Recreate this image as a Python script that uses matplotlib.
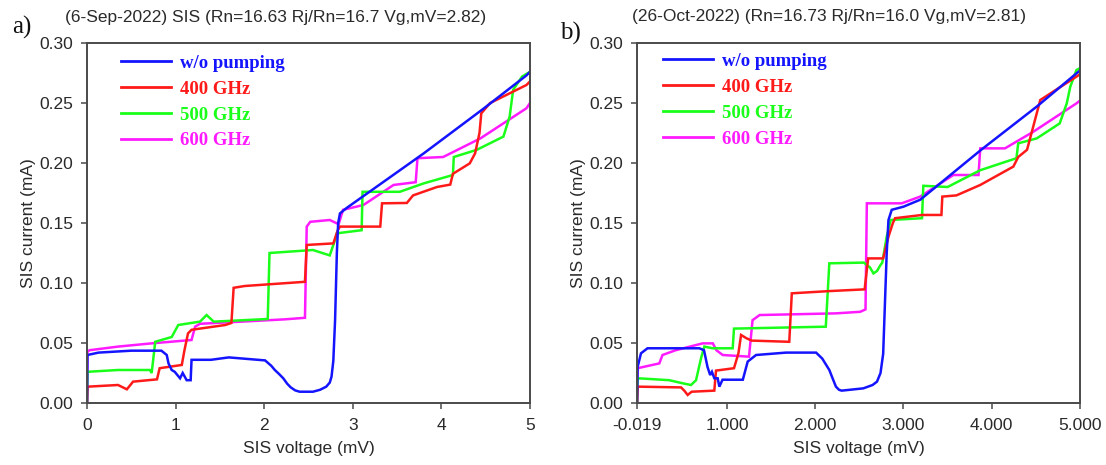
import matplotlib
matplotlib.use("Agg")
import matplotlib.pyplot as plt
from matplotlib.lines import Line2D

# ---------------- data: panel a) 6-Sep-2022 ----------------
a_v_blue = [0, 0.005, 0.13, 0.50, 0.84, 0.90, 0.92, 0.956, 0.99, 1.05, 1.08, 1.125, 1.17, 1.18, 1.40, 1.60,
            2.01, 2.08, 2.12, 2.17, 2.215, 2.26, 2.30, 2.35, 2.40, 2.55, 2.63, 2.70, 2.74, 2.76, 2.78, 2.80, 2.82,
            2.835, 2.855, 2.93, 3.80, 4.47, 4.96, 5.0]
a_i_blue = [0, 0.040, 0.042, 0.0436, 0.0436, 0.040, 0.033, 0.0275, 0.026, 0.0206, 0.025, 0.019, 0.019, 0.036, 0.036, 0.038,
            0.0355, 0.031, 0.0275, 0.024, 0.0206, 0.016, 0.013, 0.0105, 0.0094, 0.0094, 0.011, 0.0136, 0.017, 0.022, 0.035, 0.069, 0.125,
            0.150, 0.158, 0.1625, 0.208, 0.245, 0.273, 0.276]

a_v_red = [0, 0.005, 0.35, 0.45, 0.52, 0.79, 0.82, 1.07, 1.10, 1.14, 1.18, 1.56, 1.63, 1.655, 1.78, 2.46, 2.48, 2.78,
           2.83, 2.855, 3.31, 3.33, 3.61, 3.68, 3.95, 4.10, 4.13, 4.32, 4.38, 4.43, 4.45, 4.55, 4.96, 5.0]
a_i_red = [0, 0.0136, 0.015, 0.0114, 0.0178, 0.0197, 0.029, 0.0317, 0.044, 0.058, 0.061, 0.065, 0.0667, 0.096, 0.0975, 0.101, 0.1317, 0.133,
           0.144, 0.147, 0.147, 0.1664, 0.1667, 0.173, 0.180, 0.182, 0.191, 0.1997, 0.208, 0.225, 0.2414, 0.25, 0.265, 0.268]

a_v_green = [0, 0.005, 0.35, 0.71, 0.73, 0.77, 0.956, 1.03, 1.275, 1.35, 1.43, 2.04, 2.06, 2.55, 2.74, 2.80, 2.82,
             3.10, 3.11, 3.53, 3.80, 4.13, 4.14, 4.40, 4.70, 4.77, 4.81, 4.91, 5.0]
a_i_green = [0, 0.026, 0.0275, 0.0275, 0.025, 0.051, 0.055, 0.065, 0.0678, 0.0733, 0.0678, 0.070, 0.125, 0.1275, 0.123, 0.136, 0.1414,
             0.144, 0.176, 0.176, 0.183, 0.190, 0.205, 0.211, 0.222, 0.2386, 0.261, 0.272, 0.276]

a_v_mag = [0, 0.005, 0.03, 0.35, 0.73, 1.18, 1.22, 1.275, 2.23, 2.46, 2.48, 2.52, 2.74, 2.84, 2.89, 3.12, 3.46, 3.71,
           3.73, 4.02, 4.44, 4.96, 5.0]
a_i_mag = [0, 0.0428, 0.044, 0.047, 0.0497, 0.0525, 0.0636, 0.066, 0.0697, 0.071, 0.147, 0.151, 0.1525, 0.149, 0.161, 0.165, 0.1817, 0.184,
           0.204, 0.205, 0.2205, 0.2456, 0.25]

# ---------------- data: panel b) 26-Oct-2022 ----------------
b_v_blue = [-0.019, -0.012, 0.026, 0.10, 0.687, 0.74, 0.78, 0.81, 0.83, 0.857, 0.895, 0.914, 0.95, 1.18, 1.235, 1.33, 1.67,
            2.01, 2.08, 2.16, 2.20, 2.235, 2.27, 2.30, 2.545, 2.65, 2.70, 2.74, 2.77, 2.81, 2.83, 2.867, 3.0, 3.19,
            3.88, 4.51, 4.96, 5.0]
b_i_blue = [0, 0.030, 0.0414, 0.0456, 0.0456, 0.044, 0.030, 0.0233, 0.026, 0.0206, 0.0206, 0.0136, 0.0194, 0.0194, 0.0345, 0.040, 0.042,
            0.042, 0.037, 0.0275, 0.020, 0.0136, 0.011, 0.0103, 0.0122, 0.015, 0.0178, 0.025, 0.041, 0.125, 0.1525, 0.161, 0.1636, 0.1694,
            0.211, 0.247, 0.2747, 0.277]

b_v_red = [-0.019, -0.012, 0.01, 0.48, 0.52, 0.555, 0.60, 0.857, 0.876, 1.08, 1.13, 1.16, 1.22, 1.28, 1.706, 1.735, 2.17, 2.56,
           2.60, 2.77, 2.83, 2.88, 2.905, 3.21, 3.43, 3.44, 3.60, 3.87, 4.245, 4.30, 4.40, 4.47, 4.55, 4.96, 5.0]
b_i_red = [0, 0.0136, 0.0136, 0.013, 0.010, 0.0067, 0.0094, 0.0103, 0.027, 0.029, 0.0414, 0.0567, 0.054, 0.052, 0.051, 0.0914, 0.0933, 0.0947,
           0.1205, 0.1205, 0.1386, 0.150, 0.154, 0.1567, 0.1567, 0.172, 0.173, 0.1817, 0.197, 0.205, 0.211, 0.2303, 0.2525, 0.272, 0.274]

b_v_green = [-0.019, -0.012, -0.005, 0.347, 0.50, 0.593, 0.65, 0.706, 0.744, 0.84, 1.065, 1.08, 2.12, 2.16, 2.55, 2.62,
             2.66, 2.70, 2.74, 2.76, 2.81, 2.855, 3.21, 3.225, 3.50, 3.87, 4.28, 4.30, 4.51, 4.77, 4.85, 4.89, 4.96, 5.0]
b_i_green = [0, 0.019, 0.0206, 0.019, 0.0164, 0.015, 0.019, 0.0372, 0.047, 0.0456, 0.0456, 0.062, 0.0636, 0.1164, 0.117, 0.113,
             0.108, 0.110, 0.115, 0.117, 0.1386, 0.1525, 0.154, 0.181, 0.180, 0.194, 0.204, 0.2164, 0.2205, 0.233, 0.2497, 0.2636, 0.2775, 0.279]

b_v_mag = [-0.019, -0.012, 0.234, 0.27, 0.42, 0.725, 0.84, 0.88, 0.952, 1.25, 1.29, 1.37, 2.235, 2.51, 2.57, 2.585,
           2.98, 3.19, 3.565, 3.85, 3.87, 4.15, 4.47, 4.96, 5.0]
b_i_mag = [0, 0.029, 0.033, 0.040, 0.044, 0.0497, 0.0497, 0.044, 0.040, 0.0386, 0.069, 0.0733, 0.0747, 0.076, 0.078, 0.1664,
           0.1664, 0.172, 0.19, 0.19, 0.2122, 0.2122, 0.226, 0.2497, 0.252]

series_labels = ["w/o pumping", "400 GHz", "500 GHz", "600 GHz"]
series_colors = ["#1414ff", "#ff1a1a", "#1aff1a", "#ff1aff"]

a_titles = "(6-Sep-2022) SIS (Rn=16.63 Rj/Rn=16.7 Vg,mV=2.82)"
b_titles = "(26-Oct-2022) (Rn=16.73 Rj/Rn=16.0 Vg,mV=2.81)"
a_xticks = [0, 1, 2, 3, 4, 5]
a_xticklabels = ["0", "1", "2", "3", "4", "5"]
b_xticks = [-0.019, 1, 2, 3, 4, 5]
b_xticklabels = ["-0.019", "1.000", "2.000", "3.000", "4.000", "5.000"]
yticks = [0.00, 0.05, 0.10, 0.15, 0.20, 0.25, 0.30]
yticklabels = ["0.00", "0.05", "0.10", "0.15", "0.20", "0.25", "0.30"]

# ---------------- figure ----------------
W, H = 1106, 465
fig = plt.figure(figsize=(W / 100, H / 100), dpi=100)
plt.rcParams['font.family'] = ['Liberation Sans', 'DejaVu Sans']

frame_col = "#4a4a4a"
text_col = "#2a2a2a"

def make_axes(left_px, right_px):
    top_px, bot_px = 43, 403
    return fig.add_axes([left_px / W, 1 - bot_px / H, (right_px - left_px) / W, (bot_px - top_px) / H])

ax_a = make_axes(87, 530)
ax_b = make_axes(637, 1080)

panels = [
    (ax_a, [(a_v_blue, a_i_blue), (a_v_red, a_i_red), (a_v_green, a_i_green), (a_v_mag, a_i_mag)],
     (0, 5), a_xticks, a_xticklabels, (0.0767, 0.968)),
    (ax_b, [(b_v_blue, b_i_blue), (b_v_red, b_i_red), (b_v_green, b_i_green), (b_v_mag, b_i_mag)],
     (-0.019, 5.0), b_xticks, b_xticklabels, (0.0587, 0.973)),
]

for ax, data, xlim, xt, xtl, leg_anchor in panels:
    # draw in reverse so blue is on top, like the reference
    for (v, i), col in reversed(list(zip(data, series_colors))):
        ax.plot(v, i, color=col, lw=1.8, solid_joinstyle='miter')
    ax.set_xlim(*xlim)
    ax.set_ylim(0, 0.30)
    ax.set_xticks(xt)
    ax.set_xticklabels(xtl)
    ax.set_yticks(yticks)
    ax.set_yticklabels(yticklabels)
    for s in ax.spines.values():
        s.set_color(frame_col)
        s.set_linewidth(1.4)
    ax.tick_params(axis='both', direction='out', length=4, width=1.1, color=frame_col,
                   labelsize=12.5, labelcolor=text_col)
    ax.tick_params(axis='x', pad=7)
    ax.tick_params(axis='y', pad=6)
    ax.set_xlabel("SIS voltage (mV)", fontsize=12.5, color=text_col)
    ax.set_ylabel("SIS current (mA)", fontsize=12.5, color=text_col)
    ax.xaxis.set_label_coords(0.5, -0.105)
    ax.yaxis.set_label_coords(-0.115, 0.5)

    handles = [Line2D([0], [0], color=c, lw=2.0) for c in series_colors]
    leg = ax.legend(handles, series_labels, loc='upper left', bbox_to_anchor=leg_anchor,
                    frameon=False, borderpad=0, borderaxespad=0, handlelength=2.67,
                    handletextpad=0.5, labelspacing=0.47,
                    prop={'family': 'Liberation Serif', 'weight': 'bold', 'size': 13.5})
    for t, c in zip(leg.get_texts(), series_colors):
        t.set_color(c)

fig.text(0.2495, 0.963, a_titles, ha='center', va='center', fontsize=12.5, color=text_col)
fig.text(0.7496, 0.965, b_titles, ha='center', va='center', fontsize=12.5, color=text_col)
fig.text(0.020, 0.942, "a)", ha='center', va='center', fontsize=18, family='Liberation Serif', color='#111111')
fig.text(0.516, 0.928, "b)", ha='center', va='center', fontsize=18, family='Liberation Serif', color='#111111')

fig.savefig("out.png", dpi=100)
